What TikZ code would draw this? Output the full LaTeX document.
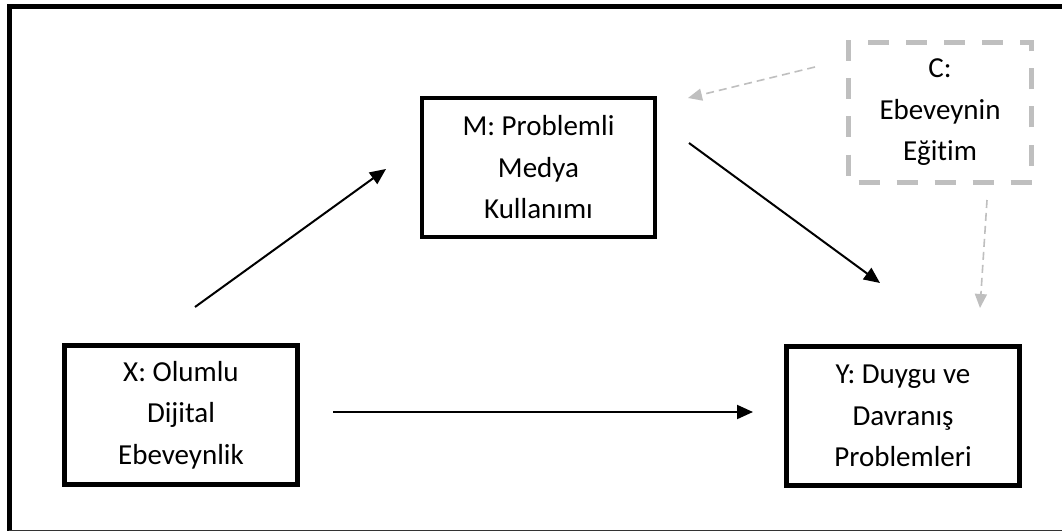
\documentclass[tikz,border=0pt]{standalone}
\usepackage{fontspec}
\setmainfont{Carlito}[Ligatures={NoCommon}]
\usetikzlibrary{arrows.meta}
\definecolor{lgray}{HTML}{BFBFBF}
\begin{document}
\begin{tikzpicture}[x=1pt,y=-1pt,
  vbox/.style={draw=black,line width=4.5pt,rectangle,minimum width=233pt,minimum height=139pt,
    align=center,font=\fontsize{29}{41.5}\selectfont,inner sep=0pt},
  cbox/.style={draw=lgray,line width=5pt,rectangle,minimum width=183pt,minimum height=140pt,
    align=center,font=\fontsize{29}{41.5}\selectfont,inner sep=0pt,
    dash pattern=on 21pt off 17pt,dash phase=-10pt},
  solidarrow/.style={line width=2pt,-{Triangle[length=16pt,width=14pt]}},
  grayarrow/.style={draw=lgray,line width=1.6pt,dash pattern=on 8pt off 5pt,
    -{Triangle[length=14pt,width=12pt,fill=lgray]}}]
\useasboundingbox (0,0) rectangle (1062,532);
\fill[white] (0,0) rectangle (1062,532);
% outer frame
\draw[line width=5pt] (1062,6.5) -- (9,6.5) -- (9,530.5);
\draw[line width=1.2pt,black!80] (9,530.5) -- (1062,530.5);
% nodes
\node[vbox] (X) at (181,415) {X: Olumlu\\Dijital\\Ebeveynlik};
\node[vbox] (M) at (538.5,167.5) {M: Problemli\\Medya\\Kullanımı};
\node[vbox] (Y) at (903,416) {Y: Duygu ve\\Davranış\\Problemleri};
\node[cbox] (C) at (940,112.5) {C:\\Ebeveynin\\Eğitim};
% connector endpoints
\coordinate (xm1) at (195,307);
\coordinate (xm2) at (386,169);
\coordinate (my1) at (689,143);
\coordinate (my2) at (880,283);
\coordinate (xy1) at (333,412);
\coordinate (xy2) at (753,412);
\coordinate (cm1) at (815,67);
\coordinate (cm2) at (688,98);
\coordinate (cy1) at (987,200);
\coordinate (cy2) at (980,308);
% connectors
\draw[solidarrow] (xm1) -- (xm2);
\draw[solidarrow] (my1) -- (my2);
\draw[solidarrow] (xy1) -- (xy2);
\draw[grayarrow] (cm1) -- (cm2);
\draw[grayarrow] (cy1) -- (cy2);
\end{tikzpicture}
\end{document}
